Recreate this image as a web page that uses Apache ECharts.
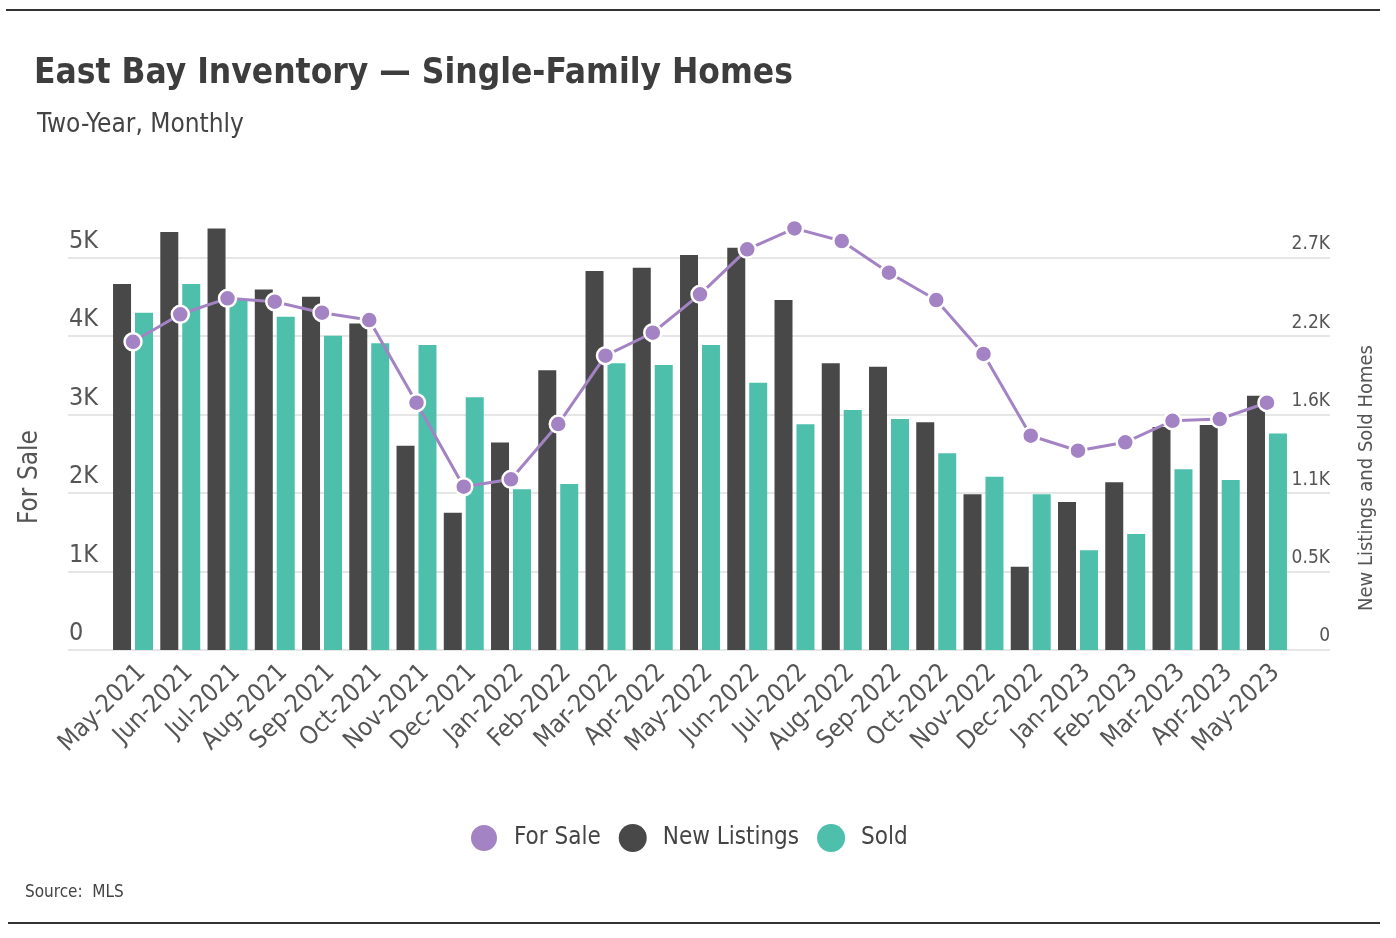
<!DOCTYPE html>
<html><head><meta charset="utf-8">
<script src="https://cdn.jsdelivr.net/npm/echarts@6/dist/echarts.min.js"></script>
<style>html,body{margin:0;padding:0;background:#fff}#c{width:1396px;height:938px}</style>
</head><body><div id="c"></div>
<script>
const months = ['May-2021','Jun-2021','Jul-2021','Aug-2021','Sep-2021','Oct-2021','Nov-2021','Dec-2021','Jan-2022','Feb-2022','Mar-2022','Apr-2022','May-2022','Jun-2022','Jul-2022','Aug-2022','Sep-2022','Oct-2022','Nov-2022','Dec-2022','Jan-2023','Feb-2023','Mar-2023','Apr-2023','May-2023'];
const forSale = [3929,4279,4482,4439,4299,4206,3152,2081,2176,2880,3751,4044,4533,5107,5374,5213,4809,4461,3773,2731,2540,2647,2922,2944,3152];
const newListings = [2519,2877,2902,2482,2431,2248,1406,945,1429,1925,2608,2631,2718,2769,2409,1973,1950,1567,1072,573,1019,1154,1535,1548,1750];
const sold = [2321,2519,2410,2294,2163,2111,2099,1739,1106,1142,1973,1961,2099,1840,1553,1652,1590,1354,1193,1072,686,798,1244,1170,1491];
const leftTickLabels = ['0','1K','2K','3K','4K','5K'];
const rightTickLabels = ['0','0.5K','1.1K','1.6K','2.2K','2.7K'];

const FONT = "'Liberation Sans Narrow','DejaVu Sans Condensed','Open Sans',sans-serif";
const PURPLE = '#a383c3', DARK = '#484848', TEAL = '#4dbfaa';

const chart = echarts.init(document.getElementById('c'), null, {renderer: 'canvas'});
chart.setOption({
  backgroundColor: '#fff',
  animation: false,
  textStyle: {fontFamily: FONT},
  grid: [
    {left: 68, right: 66, top: 257.7, bottom: 288},
    {left: 109.4, right: 105.4, top: 218.5, bottom: 288}
  ],
  xAxis: [
    {gridIndex: 0, type: 'value', show: false, min: 0, max: 1},
    {gridIndex: 1, type: 'category', data: months, boundaryGap: true,
     axisLine: {show: false}, axisTick: {show: false},
     axisLabel: {interval: 0, rotate: 45, fontSize: 25, color: '#555', margin: 10, verticalAlign: 'top', fontFamily: FONT}}
  ],
  yAxis: [
    {gridIndex: 0, type: 'value', position: 'left', min: 0, max: 5000, interval: 1000,
     axisLine: {show: false}, axisTick: {show: false},
     splitLine: {show: true, lineStyle: {color: '#dedede', width: 1.5}},
     axisLabel: {inside: true, margin: 1, align: 'left', verticalAlign: 'bottom', padding: [0,0,4,0],
       fontSize: 25, color: '#555', fontFamily: FONT,
       formatter: v => leftTickLabels[Math.round(v / 1000)]}},
    {gridIndex: 0, type: 'value', position: 'right', min: 0, max: 2700, interval: 540,
     axisLine: {show: false}, axisTick: {show: false}, splitLine: {show: false},
     axisLabel: {inside: true, margin: 0, align: 'right', verticalAlign: 'bottom', padding: [0,0,4,0],
       fontSize: 19, color: '#555', fontFamily: FONT,
       formatter: v => rightTickLabels[Math.round(v / 540)]}},
    {gridIndex: 1, type: 'value', position: 'left', min: 0, max: 5500, show: false, splitLine: {show: false}},
    {gridIndex: 1, type: 'value', position: 'right', min: 0, max: 2970, show: false, splitLine: {show: false}}
  ],
  legend: {
    data: ['For Sale', 'New Listings', 'Sold'],
    icon: 'circle', itemWidth: 28, itemHeight: 28, itemGap: 18,
    left: 464, top: 818,
    textStyle: {fontSize: 24, color: '#444', fontFamily: FONT, padding: [0, 0, 0, 11]}
  },
  series: [
    {name: 'New Listings', type: 'bar', xAxisIndex: 1, yAxisIndex: 3, data: newListings,
     barWidth: 18, barGap: '22%', itemStyle: {color: DARK}, z: 2},
    {name: 'Sold', type: 'bar', xAxisIndex: 1, yAxisIndex: 3, data: sold,
     barWidth: 18, barGap: '22%', itemStyle: {color: TEAL}, z: 2},
    {name: 'For Sale', type: 'line', xAxisIndex: 1, yAxisIndex: 2, data: forSale,
     symbol: 'circle', symbolSize: 17, lineStyle: {color: PURPLE, width: 3},
     itemStyle: {color: PURPLE, borderColor: '#fff', borderWidth: 2.5}, z: 5}
  ],
  graphic: [
    {type: 'line', shape: {x1: 6, y1: 10, x2: 1380, y2: 10}, style: {stroke: '#333', lineWidth: 2}},
    {type: 'line', shape: {x1: 8, y1: 923, x2: 1380, y2: 923}, style: {stroke: '#333', lineWidth: 2}},
    {type: 'text', x: 34, y: 74, style: {text: 'East Bay Inventory — Single-Family Homes', font: "bold 35px " + FONT, fill: '#3d3d3d', verticalAlign: 'middle'}},
    {type: 'text', x: 37, y: 125, style: {text: 'Two-Year, Monthly', font: "26px " + FONT, fill: '#444', verticalAlign: 'middle'}},
    {type: 'text', x: 30, y: 477, rotation: Math.PI / 2, style: {text: 'For Sale', font: "26px " + FONT, fill: '#555', align: 'center', verticalAlign: 'middle'}},
    {type: 'text', x: 1367, y: 478, rotation: Math.PI / 2, style: {text: 'New Listings and Sold Homes', font: "20px " + FONT, fill: '#555', align: 'center', verticalAlign: 'middle'}},
    {type: 'text', x: 25, y: 893, style: {text: 'Source:  MLS', font: "17px " + FONT, fill: '#444', verticalAlign: 'middle'}}
  ]
});
</script></body></html>
